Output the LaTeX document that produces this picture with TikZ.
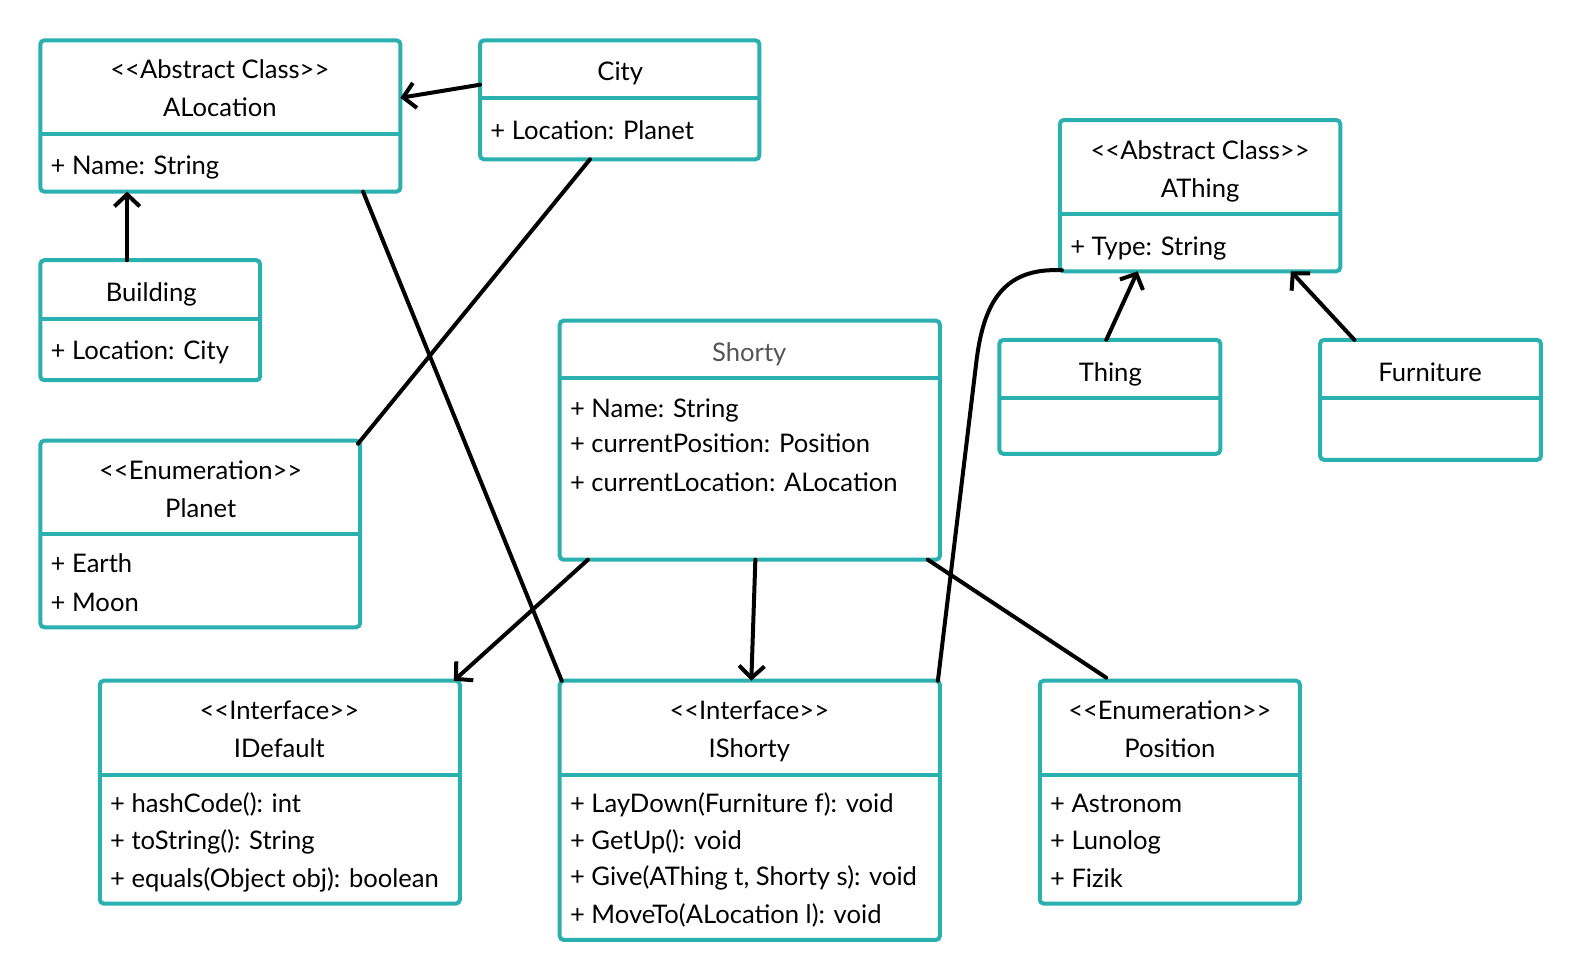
\documentclass[tikz,border=0pt]{standalone}
\usepackage{fontspec}
\setmainfont{Lato}
\usetikzlibrary{arrows.meta,calc}
\definecolor{umlteal}{RGB}{43,176,176}
\definecolor{titlegray}{RGB}{85,85,85}
\newcommand\umlbox[6]{%
  \node[umlbox,minimum width={(#4-#2)*0.7564pt},minimum height={(#5-#3)*0.7564pt}] (#1) at (#2,#3) {};
  \draw[umldiv] ($(#1.north west)+(0,#6-#3)$) -- ($(#1.north east)+(0,#6-#3)$);
}
\begin{document}
\begin{tikzpicture}[x=0.7564pt,y=-0.7564pt,
  umlbox/.style={draw=umlteal,line width=3pt,rounded corners=3pt,rectangle,inner sep=0pt,outer sep=0pt,anchor=north west},
  umldiv/.style={draw=umlteal,line width=3pt},
  ttl/.style={anchor=base,font=\fontsize{19.2pt}{23pt}\selectfont,inner sep=0pt},
  attr/.style={anchor=base west,font=\fontsize{19.2pt}{23pt}\selectfont,inner sep=0pt},
  conn/.style={line width=3pt,black,line cap=round},
  arr/.style={conn,-{Straight Barb[length=9pt,width=19pt]}}
]
\fill[white] (0,0) rectangle (1567.7,971.7);
\useasboundingbox (0,0) rectangle (1567.7,971.7);

% boxes
\umlbox{alocation}{40}{40}{397}{190}{133}
\umlbox{city}{476}{40}{753}{158}{97}
\umlbox{building}{40}{258}{258}{377}{316}
\umlbox{planet}{40}{437}{357}{622}{530}
\umlbox{athing}{1051}{119}{1329}{269}{212}
\umlbox{thing}{991}{337}{1210}{450}{395}
\umlbox{furniture}{1309}{337}{1528}{456}{395}
\umlbox{shorty}{555}{318}{932}{555}{375}
\umlbox{idefault}{99}{675}{456}{896}{768}
\umlbox{ishorty}{555}{675}{932}{932}{768}
\umlbox{position}{1031}{675}{1289}{896}{768}

% texts
\node[ttl] (t1) at (218,78) {{<}{<}Abstract Class{>}{>}};
\node[ttl] (t2) at (218,116) {ALocation};
\node[attr] (t3) at (50,173) {+ Name: String};

\node[ttl] (t4) at (615,80) {City};
\node[attr] (t5) at (486,138) {+ Location: Planet};

\node[ttl] (t6) at (150,299) {Building};
\node[attr] (t7) at (50,356) {+ Location: City};

\node[ttl] (t8) at (199,475) {{<}{<}Enumeration{>}{>}};
\node[ttl] (t9) at (199,513) {Planet};
\node[attr] (t10) at (50,568) {+ Earth};
\node[attr] (t11) at (50,606) {+ Moon};

\node[ttl] (t12) at (1190,158) {{<}{<}Abstract Class{>}{>}};
\node[ttl] (t13) at (1190,196) {AThing};
\node[attr] (t14) at (1061,253) {+ Type: String};

\node[ttl] (t15) at (1101,378) {Thing};
\node[ttl] (t16) at (1418,378) {Furniture};

\node[ttl,text=titlegray] (t17) at (743,358) {Shorty};
\node[attr] (t18) at (565,414) {+ Name: String};
\node[attr] (t19) at (565,449) {+ currentPosition: Position};
\node[attr] (t20) at (565,487) {+ currentLocation: ALocation};

\node[ttl] (t21) at (277,713) {{<}{<}Interface{>}{>}};
\node[ttl] (t22) at (277,751) {IDefault};
\node[attr] (t23) at (109,806) {+ hashCode(): int};
\node[attr] (t24) at (109,842) {+ toString(): String};
\node[attr] (t25) at (109,880) {+ equals(Object obj): boolean};

\node[ttl] (t26) at (743,713) {{<}{<}Interface{>}{>}};
\node[ttl] (t27) at (743,751) {IShorty};
\node[attr] (t28) at (565,806) {+ LayDown(Furniture f): void};
\node[attr] (t29) at (565,842) {+ GetUp(): void};
\node[attr] (t30) at (565,878) {+ Give(AThing t, Shorty s): void};
\node[attr] (t31) at (565,916) {+ MoveTo(ALocation l): void};

\node[ttl] (t32) at (1160,713) {{<}{<}Enumeration{>}{>}};
\node[ttl] (t33) at (1160,751) {Position};
\node[attr] (t34) at (1041,806) {+ Astronom};
\node[attr] (t35) at (1041,842) {+ Lunolog};
\node[attr] (t36) at (1041,880) {+ Fizik};

% connectors
\coordinate (bend) at (968,360);
\draw[arr] ($(city.north west)+(0,44)$) -- ($(alocation.north east)+(0,57)$);
\draw[arr] ($(building.north west)+(86,0)$) -- ($(alocation.south west)+(86,0)$);
\draw[conn] ($(alocation.south west)+(320,0)$) -- ($(ishorty.north west)+(2,0)$);
\draw[conn] ($(city.south west)+(109,0)$) -- ($(planet.north east)+(-2,3)$);
\draw[arr] ($(shorty.south west)+(28,0)$) -- ($(idefault.north east)+(-6,0)$);
\draw[arr] ($(shorty.south west)+(194,0)$) -- ($(ishorty.north west)+(190,0)$);
\draw[conn] ($(shorty.south east)+(-12,0)$) -- ($(position.north west)+(66,-3)$);
\draw[conn] ($(ishorty.north east)+(-2,0)$) -- (bend)
  .. controls +(7,-60) and +(-58,-3) .. ($(athing.south west)+(2,-1)$);
\draw[arr] ($(thing.north west)+(106,0)$) -- ($(athing.south west)+(77,0)$);
\draw[arr] ($(furniture.north west)+(34,0)$) -- ($(athing.south west)+(229,0)$);
\end{tikzpicture}
\end{document}
